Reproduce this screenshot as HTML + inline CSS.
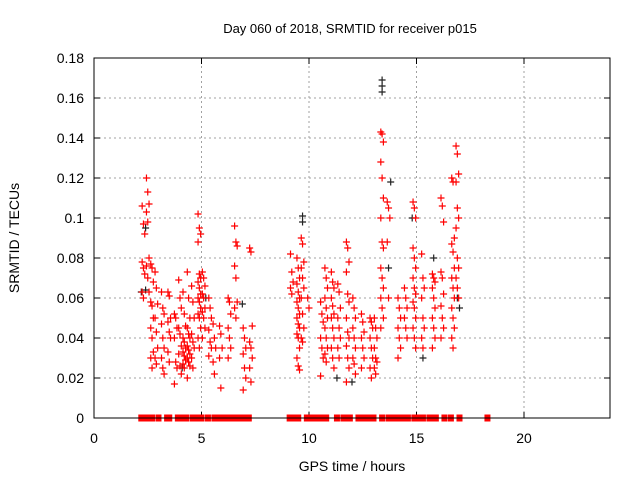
<!DOCTYPE html>
<html><head><meta charset="utf-8"><style>
body{margin:0;background:#fff;}
svg{display:block;font-family:"Liberation Sans",sans-serif;}
</style></head><body>
<svg id="chart" width="640" height="480" viewBox="0 0 640 480">
<rect width="640" height="480" fill="#fff"/>
<g id="grid"></g>
<g id="ticks"></g>
<g id="marks"></g>
<rect x="94" y="58" width="516" height="360" fill="none" stroke="#000" stroke-width="1"/>
<text x="350" y="33" font-size="13" text-anchor="middle">Day 060 of 2018, SRMTID for receiver p015</text>
<text x="352" y="471" font-size="14" text-anchor="middle">GPS time / hours</text>
<text transform="translate(19,238) rotate(-90)" font-size="14" text-anchor="middle">SRMTID / TECUs</text>
</svg>
<script>
const xTicks=[0,5,10,15,20];
const yTicks=[0,0.02,0.04,0.06,0.08,0.1,0.12,0.14,0.16,0.18];
const yTickLabels=["0","0.02","0.04","0.06","0.08","0.1","0.12","0.14","0.16","0.18"];
const redGroupHours=[2.3,2.5,2.7,2.9,3.2,3.5,3.8,4.0,4.2,4.4,4.6,4.9,5.1,5.4,5.6,5.9,6.3,6.6,7.0,7.3,9.2,9.5,9.7,10.0,10.6,10.8,11.1,11.4,11.8,12.1,12.5,12.9,13.1,13.4,13.7,14.2,14.5,14.9,15.3,15.8,16.2,16.7,16.9];
const redGroupValues=[
[0.106,0.097,0.092,0.078,0.075,0.072,0.063,0.06],
[0.12,0.113,0.107,0.103,0.098,0.08,0.076,0.07,0.063],
[0.077,0.075,0.068,0.058,0.056,0.05,0.045,0.04,0.033,0.03,0.025],
[0.073,0.065,0.057,0.05,0.043,0.035,0.03,0.027],
[0.063,0.055,0.052,0.047,0.04,0.035,0.03,0.025,0.022],
[0.063,0.061,0.05,0.048,0.043,0.04,0.033,0.028],
[0.052,0.05,0.045,0.04,0.028,0.025,0.017],
[0.069,0.06,0.055,0.045,0.042,0.036,0.032,0.026,0.022],
[0.063,0.052,0.046,0.04,0.038,0.035,0.033,0.031,0.029,0.027,0.025],
[0.073,0.06,0.05,0.045,0.042,0.04,0.036,0.034,0.032,0.03,0.028,0.026,0.02],
[0.066,0.058,0.05,0.042,0.038,0.035,0.03,0.025],
[0.102,0.095,0.092,0.088,0.072,0.07,0.068,0.065,0.062,0.06,0.058,0.055,0.052,0.05,0.045,0.04,0.035],
[0.073,0.07,0.066,0.062,0.06,0.055,0.053,0.05,0.045,0.04],
[0.06,0.055,0.05,0.044,0.038,0.035,0.031],
[0.047,0.04,0.035,0.028,0.022],
[0.046,0.042,0.035,0.03,0.015],
[0.06,0.058,0.052,0.045,0.04,0.035,0.03],
[0.096,0.088,0.086,0.076,0.07,0.058,0.055,0.05],
[0.045,0.04,0.035,0.032,0.025,0.02,0.014],
[0.085,0.083,0.046,0.038,0.035,0.03,0.025,0.018],
[0.082,0.073,0.068,0.065,0.062],
[0.08,0.075,0.07,0.067,0.063,0.06,0.058,0.055,0.052,0.05,0.047,0.045,0.042,0.04,0.035,0.03,0.026,0.024],
[0.09,0.087,0.078,0.075,0.07,0.065,0.06,0.052,0.045,0.04,0.038],
[0.06,0.055],
[0.058,0.052,0.048,0.04,0.035,0.03,0.021],
[0.075,0.07,0.065,0.06,0.055,0.05,0.045,0.04,0.035,0.032,0.028],
[0.073,0.068,0.065,0.06,0.056,0.052,0.05,0.045,0.04,0.035,0.03,0.025],
[0.067,0.063,0.055,0.05,0.045,0.04,0.035,0.03],
[0.088,0.085,0.078,0.073,0.062,0.058,0.05,0.043,0.04,0.036,0.03,0.025,0.018],
[0.06,0.055,0.05,0.045,0.04,0.035,0.03,0.027,0.022],
[0.052,0.048,0.043,0.04,0.035,0.03,0.025],
[0.05,0.048,0.045,0.04,0.035,0.03,0.025,0.02],
[0.05,0.045,0.04,0.035,0.03,0.028,0.025,0.022],
[0.143,0.142,0.138,0.128,0.12,0.11,0.1,0.088,0.085,0.075,0.07,0.065,0.06,0.055,0.05,0.045],
[0.108,0.105,0.1,0.088,0.06],
[0.06,0.055,0.05,0.045,0.04,0.035,0.03],
[0.065,0.06,0.055,0.05,0.045,0.04],
[0.108,0.105,0.1,0.085,0.08,0.075,0.07,0.065,0.062,0.058,0.055,0.05,0.045,0.04,0.035],
[0.082,0.07,0.065,0.06,0.05,0.045,0.04,0.035],
[0.072,0.07,0.068,0.065,0.06,0.055,0.05,0.045,0.04,0.035],
[0.11,0.106,0.098,0.073,0.07,0.062,0.056,0.05,0.045,0.04],
[0.12,0.118,0.09,0.087,0.083,0.075,0.07,0.065,0.06,0.055,0.05,0.045,0.04,0.035],
[0.136,0.132,0.122,0.118,0.105,0.1,0.095,0.08,0.075,0.07,0.065,0.06]
];
const blackHours=[2.2,2.4,2.4,13.4,13.4,13.4,9.7,9.7,14.8,13.8,13.7,17.0,16.9,6.9,15.8,15.3,12.0,11.3,5.2,4.1];
const blackValues=[0.063,0.064,0.095,0.169,0.166,0.163,0.101,0.098,0.1,0.118,0.075,0.055,0.06,0.057,0.08,0.03,0.018,0.02,0.06,0.025];
const zeroHours=[2.2,2.3,2.4,2.5,2.7,3.0,3.4,3.5,3.9,4.1,4.3,4.6,4.7,4.8,5.0,5.3,5.6,5.7,5.8,6.0,6.1,6.2,6.3,6.4,6.6,6.7,6.9,7.0,7.1,7.2,9.1,9.2,9.3,9.5,9.9,10.0,10.1,10.2,10.3,10.5,10.6,10.8,11.3,11.6,11.7,11.9,12.3,12.4,12.5,12.7,12.8,13.0,13.4,13.7,13.8,13.9,14.1,14.2,14.4,14.6,14.9,15.1,15.3,15.6,15.7,15.9,16.3,16.6,17.0,18.3];

const X0=94,X1=610,Y0=418,Y1=58;
const xs=h=>X0+h*(X1-X0)/24;
const ys=v=>Y0-v*(Y0-Y1)/0.18;
const NS="http://www.w3.org/2000/svg";
function mk(tag,attrs,parent){const e=document.createElementNS(NS,tag);for(const k in attrs)e.setAttribute(k,attrs[k]);parent.appendChild(e);return e;}
const grid=document.getElementById('grid'),ticks=document.getElementById('ticks'),marks=document.getElementById('marks');
yTicks.forEach((t,i)=>{
  const y=ys(t);
  if(i>0&&i<yTicks.length-1){const g=mk('line',{x1:X0,x2:X1,y1:y,y2:y,stroke:'#a0a0a0','stroke-dasharray':'2,3'},grid);
  
  }
  mk('line',{x1:X0,x2:X0+6,y1:y,y2:y,stroke:'#000'},ticks);
  mk('line',{x1:X1,x2:X1-6,y1:y,y2:y,stroke:'#000'},ticks);
  const tx=mk('text',{x:X0-10,y:y+5,'font-size':14,'text-anchor':'end'},ticks);
  tx.textContent=yTickLabels[i];
  
  
});
xTicks.forEach(t=>{
  const x=xs(t);
  if(t>0){const g=mk('line',{x1:x,x2:x,y1:Y0,y2:Y1,stroke:'#a0a0a0','stroke-dasharray':'2,3'},grid);
  
  }
  mk('line',{x1:x,x2:x,y1:Y0,y2:Y0-6,stroke:'#000'},ticks);
  mk('line',{x1:x,x2:x,y1:Y1,y2:Y1+6,stroke:'#000'},ticks);
  const tx=mk('text',{x:x,y:Y0+25,'font-size':14,'text-anchor':'middle'},ticks);
  tx.textContent=String(t);
  
  
});
function plus(h,v,color,name){
  const x=xs(h),y=ys(v);
  const p=mk('path',{d:`M${x-3.5},${y}H${x+3.5}M${x},${y-3.5}V${y+3.5}`,stroke:color,'stroke-width':1.2,fill:'none'},marks);
  
  
}
blackHours.forEach((h,i)=>plus(h,blackValues[i],'#222','black-point'));
redGroupHours.forEach((h,gi)=>{
  redGroupValues[gi].forEach((v,j)=>plus(h+((j%3)-1)*0.06,v,'#ff0000','red-point'));
});
zeroHours.forEach(h=>{
  const x=xs(h);
  const r=mk('rect',{x:x-3,y:Y0-3.5,width:6,height:7,fill:'#ff0000'},marks);
  
  
});
</script>
</body></html>
